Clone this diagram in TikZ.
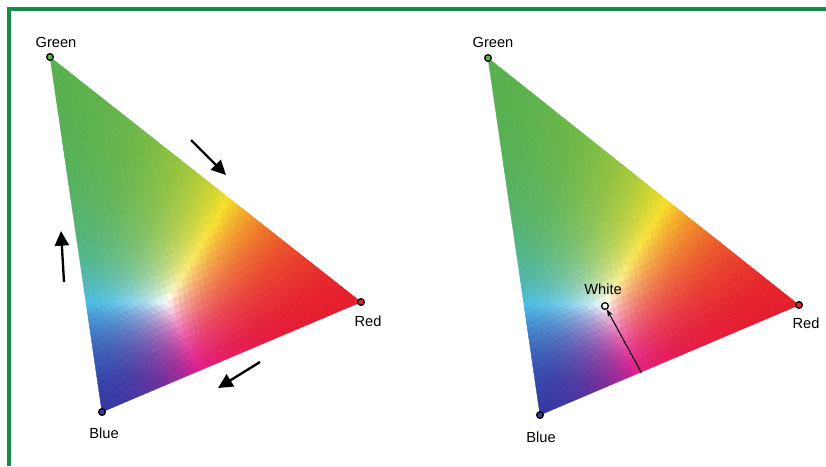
\documentclass[tikz,border=0pt]{standalone}
\usepackage{fontspec}
\setmainfont{Liberation Sans}
\usetikzlibrary{arrows.meta}

\definecolor{framegreen}{RGB}{22,140,72}
\definecolor{gmGreen}{rgb}{0.36,0.70,0.30}
\definecolor{gmRed}{rgb}{0.90,0.11,0.17}
\definecolor{gmBlue}{rgb}{0.22,0.22,0.62}

% number of strips per side
\def\gamutN{50}
\pgfmathtruncatemacro\gamutNm{\gamutN-1}

% one small patch: #1 red weight, #2 blue weight, #3 path
\newcommand{\gamutpatch}[3]{%
  \pgfmathsetmacro\gmR{#1/0.295}%
  \pgfmathsetmacro\gmB{#2/0.488}%
  \pgfmathsetmacro\gmG{max(1-#1-#2,0)/0.217}%
  \pgfmathsetmacro\gmM{max(\gmR,\gmG,\gmB)}%
  \pgfmathsetmacro\gmR{(\gmR/\gmM)*sqrt(\gmR/\gmM)}%
  \pgfmathsetmacro\gmG{(\gmG/\gmM)*sqrt(\gmG/\gmM)}%
  \pgfmathsetmacro\gmB{(\gmB/\gmM)*sqrt(\gmB/\gmM)}%
  \pgfmathsetmacro\wR{\gmR*(1-\gmG)*(1-\gmB)}%
  \pgfmathsetmacro\wG{(1-\gmR)*\gmG*(1-\gmB)}%
  \pgfmathsetmacro\wB{(1-\gmR)*(1-\gmG)*\gmB}%
  \pgfmathsetmacro\wY{\gmR*\gmG*(1-\gmB)}%
  \pgfmathsetmacro\wC{(1-\gmR)*\gmG*\gmB}%
  \pgfmathsetmacro\wM{\gmR*(1-\gmG)*\gmB}%
  \pgfmathsetmacro\wW{\gmR*\gmG*\gmB}%
  \pgfmathsetmacro\fR{min(1,\wR*0.90+\wG*0.34+\wB*0.20+\wY*0.97+\wC*0.30+\wM*0.88+\wW)}%
  \pgfmathsetmacro\fG{min(1,\wR*0.11+\wG*0.69+\wB*0.22+\wY*0.88+\wC*0.74+\wM*0.12+\wW)}%
  \pgfmathsetmacro\fB{min(1,\wR*0.17+\wG*0.30+\wB*0.64+\wY*0.16+\wC*0.90+\wM*0.55+\wW)}%
  \definecolor{gmfill}{rgb}{\fR,\fG,\fB}%
  \fill[gmfill, draw=gmfill, line width=0.3pt, line join=round] #3;%
}

% whole gamut triangle: #1 green corner, #2 towards red, #3 towards blue
\newcommand{\gamuttri}[3]{%
  \begin{scope}[shift={#1}, x={#2}, y={#3}]
    \foreach \i in {0,...,\gamutNm}{
      \pgfmathtruncatemacro\jmax{\gamutN-1-\i}
      \pgfmathsetmacro\xa{\i/\gamutN}
      \pgfmathsetmacro\xb{(\i+1)/\gamutN}
      \foreach \j in {0,...,\jmax}{
        \pgfmathsetmacro\ya{\j/\gamutN}
        \pgfmathsetmacro\yb{(\j+1)/\gamutN}
        \gamutpatch{(\i+1/3)/\gamutN}{(\j+1/3)/\gamutN}{(\xa,\ya) -- (\xb,\ya) -- (\xa,\yb) -- cycle}
        \ifnum\j<\jmax
          \gamutpatch{(\i+2/3)/\gamutN}{(\j+2/3)/\gamutN}{(\xb,\ya) -- (\xb,\yb) -- (\xa,\yb) -- cycle}
        \fi
      }
    }
  \end{scope}}

\tikzset{
  vlabel/.style={font=\fontsize{12.5pt}{14pt}\selectfont, inner sep=0pt},
  vdot/.style={circle, draw=black, line width=1.1pt, inner sep=0pt, minimum size=0.2cm},
  bigarrow/.style={line width=2pt, -{Triangle[length=4.4mm,width=4.2mm]}},
  thinarrow/.style={line width=0.9pt, -{Stealth[length=2.2mm,width=1.6mm]}}
}

\begin{document}
\begin{tikzpicture}[x=0.03cm, y=-0.03cm]
  \useasboundingbox (0,0) rectangle (826,466);
  % --- frame ---
  \draw[framegreen, line width=3pt] (826,9) -- (9,9) -- (9,466);

  % --- corners ---
  \coordinate (G1) at (50,57);
  \coordinate (R1) at (361,302);
  \coordinate (B1) at (102,412);
  \coordinate (G2) at (488,58);
  \coordinate (R2) at (799,305);
  \coordinate (B2) at (540,415);

  % --- colour triangles ---
  \gamuttri{(G1)}{(9.33cm,-7.35cm)}{(1.56cm,-10.65cm)}
  \gamuttri{(G2)}{(9.33cm,-7.41cm)}{(1.56cm,-10.71cm)}

  % --- left: corners and arrows ---
  \node[vdot, fill=gmGreen] (G1dot) at (G1) {};
  \node[vdot, fill=gmRed] (R1dot) at (R1) {};
  \node[vdot, fill=gmBlue] (B1dot) at (B1) {};
  \node[vlabel] (G1lab) at (56,42) {Green};
  \node[vlabel] (R1lab) at (368,321) {Red};
  \node[vlabel] (B1lab) at (104,433) {Blue};
  \coordinate (a1s) at (191,140);
  \coordinate (a1e) at (226,175);
  \coordinate (a2s) at (64,282);
  \coordinate (a2e) at (61,231);
  \coordinate (a3s) at (260,362);
  \coordinate (a3e) at (218,388);
  \draw[bigarrow] (a1s) -- (a1e);
  \draw[bigarrow] (a2s) -- (a2e);
  \draw[bigarrow] (a3s) -- (a3e);

  % --- right: corners and white point ---
  \node[vdot, fill=gmGreen] (G2dot) at (G2) {};
  \node[vdot, fill=gmRed] (R2dot) at (R2) {};
  \node[vdot, fill=gmBlue] (B2dot) at (B2) {};
  \node[vlabel] (G2lab) at (493,42) {Green};
  \node[vlabel] (R2lab) at (806,323) {Red};
  \node[vlabel] (B2lab) at (541,437) {Blue};
  \node[vdot, fill=white] (Wdot) at (605,306) {};
  \node[vlabel] (Wlab) at (603,289) {White};
  \coordinate (E) at (641,372);
  \fill (E) circle (0.7pt);
  \draw[thinarrow] (E) -- (Wdot);
\end{tikzpicture}
\end{document}
